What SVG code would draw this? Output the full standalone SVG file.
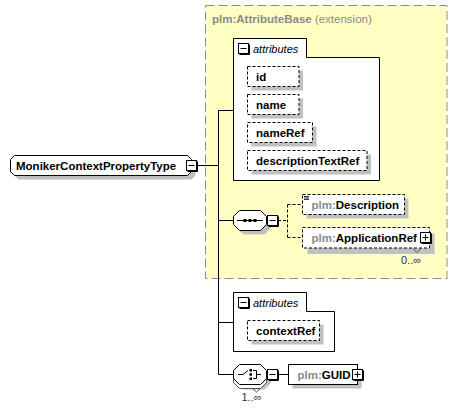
<svg xmlns="http://www.w3.org/2000/svg" width="458" height="410" viewBox="0 0 458 410">
<style>
text{font-family:"Liberation Sans",Arial,sans-serif;font-size:11.5px;fill:#000}
.b{font-weight:bold}
.ns{fill:#8a8a8a}
.it{font-style:italic;font-size:11px}
.occ{font-size:11px;fill:#30305a}
.sh{fill:#c0c0c0;stroke:none}
.box{fill:#fff;stroke:#000;stroke-width:1}
.dbox{fill:#fff;stroke:#000;stroke-width:1;stroke-dasharray:3,2}
.ln{stroke:#000;stroke-width:1;fill:none}
.dln{stroke:#000;stroke-width:1;fill:none;stroke-dasharray:3,2}
.ext{fill:#ffffc4;stroke:#8c8c8c;stroke-width:1;stroke-dasharray:9,4}
</style>
<defs>
<g id="minus"><rect x="0.5" y="0.5" width="10" height="10" fill="#fff" stroke="#000"/><path d="M11.5,1.5V11.5H1.5" fill="none" stroke="#000"/><path d="M2.5,5.5H8.5" stroke="#000"/></g>
<g id="plus"><rect x="0.5" y="0.5" width="10" height="10" fill="#fff" stroke="#000"/><path d="M11.5,1.5V11.5H1.5" fill="none" stroke="#000"/><path d="M2.5,5.5H8.5M5.5,2.5V8.5" stroke="#000"/></g>
</defs>

<g id="extension">
<rect class="ext" x="205.5" y="5.5" width="241.5" height="273"/>
<text x="212" y="22.5" class="ns"><tspan class="b">plm:AttributeBase</tspan> (extension)</text>
</g>

<g id="connectors">
<path class="ln" d="M197,165.5H218.5M218.5,110V374.5M218.5,110.5H233.5M218.5,220.5H233.5M218.5,322.5H233.5M218.5,374.5H233.5"/>
<path class="dln" d="M278,220.5H287.5M287.5,204.5V237.5M287.5,204.5H302.5M287.5,237.5H302.5"/>
<path class="ln" d="M278,374.5H288.5"/>
</g>

<g id="MonikerContextPropertyType">
<polygon class="sh" points="18.5,159.5 191.5,159.5 195.5,163.5 195.5,175.5 191.5,179.5 18.5,179.5 14.5,175.5 14.5,163.5"/>
<polygon class="box" points="14.5,155.5 187.5,155.5 191.5,159.5 191.5,171.5 187.5,175.5 14.5,175.5 10.5,171.5 10.5,159.5"/>
<text x="16" y="169.5" class="b">MonikerContextPropertyType</text>
<use href="#minus" x="186" y="160"/>
</g>

<g id="attributes1">
<path class="box" d="M233.5,38.5H306.5V57.5H379.5V180.5H233.5Z"/>
<use href="#minus" x="238" y="43"/>
<text x="253" y="52.5" class="it">attributes</text>
</g>

<g id="attr-id">
<rect class="sh" x="251.5" y="70.5" width="51.5" height="20"/>
<rect class="dbox" x="247.5" y="66.5" width="51.5" height="20"/>
<text x="256" y="80.5" class="b">id</text>
</g>
<g id="attr-name">
<rect class="sh" x="251.5" y="98.5" width="51.5" height="20"/>
<rect class="dbox" x="247.5" y="94.5" width="51.5" height="20"/>
<text x="256" y="108.5" class="b">name</text>
</g>
<g id="attr-nameRef">
<rect class="sh" x="251.5" y="126.5" width="65" height="20"/>
<rect class="dbox" x="247.5" y="122.5" width="65" height="20"/>
<text x="256" y="136.5" class="b">nameRef</text>
</g>
<g id="attr-descriptionTextRef">
<rect class="sh" x="251.5" y="154.5" width="119.5" height="20"/>
<rect class="dbox" x="247.5" y="150.5" width="119.5" height="20"/>
<text x="256" y="164.5" class="b">descriptionTextRef</text>
</g>

<g id="sequence">
<polygon class="sh" points="243.5,214.5 264.5,214.5 270.5,220.5 270.5,228.5 264.5,234.5 243.5,234.5 237.5,228.5 237.5,220.5"/>
<polygon class="box" points="239.5,210.5 260.5,210.5 266.5,216.5 266.5,224.5 260.5,230.5 239.5,230.5 233.5,224.5 233.5,216.5"/>
<path class="ln" d="M237,220.5H263"/>
<rect x="243.5" y="219" width="3" height="3" fill="#000"/>
<rect x="248.5" y="219" width="3" height="3" fill="#000"/>
<rect x="253.5" y="219" width="3" height="3" fill="#000"/>
<use href="#minus" x="267" y="215"/>
</g>

<g id="Description">
<rect class="sh" x="306.5" y="198.5" width="102" height="20"/>
<rect class="dbox" x="302.5" y="194.5" width="102" height="20"/>
<path d="M304,196.5H309M304,198H309M304,199.5H309" stroke="#000" stroke-width="0.8"/>
<text x="311.5" y="208.5" class="b"><tspan class="ns">plm:</tspan>Description</text>
</g>

<g id="ApplicationRef">
<rect class="sh" x="307.5" y="233.5" width="127" height="20.5"/>
<rect class="dbox" x="302.5" y="227.5" width="127" height="20.5"/>
<path d="M413,248.5L417,252.5L421,248.5" fill="none" stroke="#555"/>
<text x="311.5" y="241.5" class="b"><tspan class="ns">plm:</tspan>ApplicationRef</text>
<use href="#plus" x="420" y="232"/>
<text x="401" y="264" class="occ">0..∞</text>
</g>

<g id="attributes2">
<path class="box" d="M233.5,292.5H306.5V311.5H334.5V351.5H233.5Z"/>
<use href="#minus" x="238" y="297"/>
<text x="253" y="306.5" class="it">attributes</text>
</g>

<g id="attr-contextRef">
<rect class="sh" x="251.5" y="324.5" width="72" height="20"/>
<rect class="dbox" x="247.5" y="320.5" width="72" height="20"/>
<text x="256" y="334.5" class="b">contextRef</text>
</g>

<g id="choice">
<polygon class="sh" points="243.5,372.5 264.5,372.5 270.5,378.5 270.5,383.5 264.5,389.5 243.5,389.5 237.5,383.5 237.5,378.5"/>
<polygon points="239.5,368.5 260.5,368.5 266.5,374.5 266.5,382.5 260.5,388.5 239.5,388.5 233.5,382.5 233.5,374.5" fill="#fff" stroke="#555"/>
<path d="M252.5,388.5L256.5,392L260.5,388.5" fill="none" stroke="#555"/>
<polygon class="box" points="239.5,364.5 260.5,364.5 266.5,370.5 266.5,378.5 260.5,384.5 239.5,384.5 233.5,378.5 233.5,370.5"/>
<path class="ln" d="M238,374.5H243L248,370.5"/>
<rect x="249.5" y="369" width="2.5" height="2.5" fill="#000"/>
<rect x="249.5" y="373.2" width="2.5" height="2.5" fill="#000"/>
<rect x="249.5" y="377.5" width="2.5" height="2.5" fill="#000"/>
<path class="ln" d="M253,370.5H256.5V378.5H253M256.5,374.5H261"/>
<use href="#minus" x="267" y="369"/>
<text x="241.5" y="401" class="occ">1..∞</text>
</g>

<g id="GUID">
<rect class="sh" x="292.5" y="368.5" width="69" height="20"/>
<rect class="box" x="288.5" y="364.5" width="69" height="20"/>
<text x="297.5" y="378.5" class="b"><tspan class="ns">plm:</tspan>GUID</text>
<use href="#plus" x="352" y="369"/>
</g>
</svg>
